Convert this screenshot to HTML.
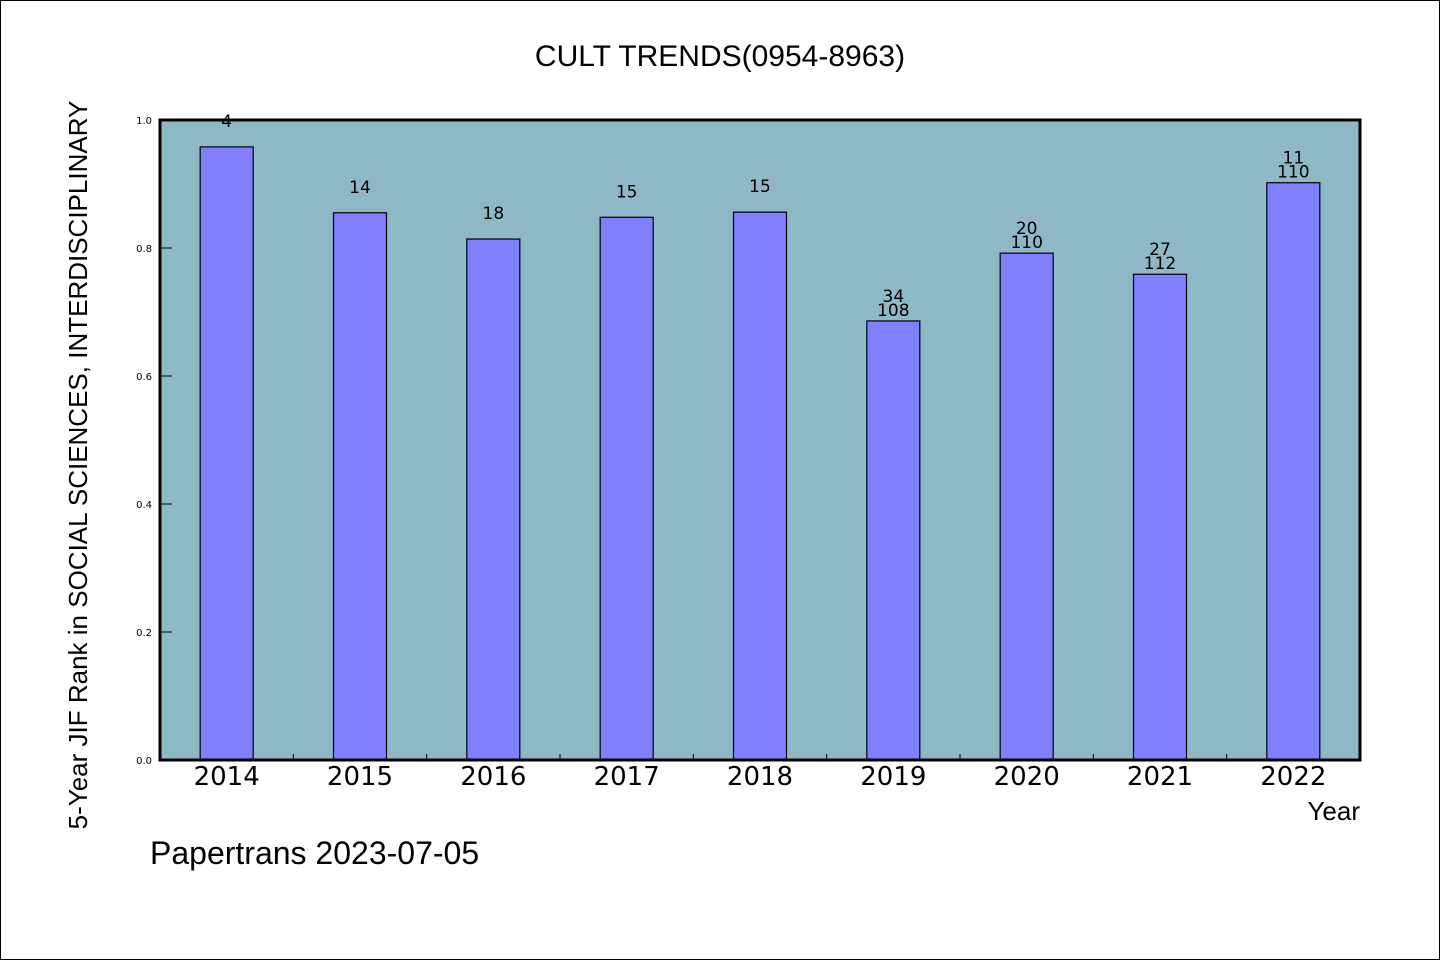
<!DOCTYPE html>
<html><head><meta charset="utf-8"><style>
html,body{margin:0;padding:0;background:#fff}
svg{display:block}
text{font-family:"WenQuanYi Zen Hei","Liberation Sans",sans-serif;fill:#000}
.t{font-family:"DejaVu Sans","Liberation Sans",sans-serif}
</style></head><body>
<svg id="chart" width="1440" height="960" viewBox="0 0 1440 960">
<rect x="0.5" y="0.5" width="1439" height="959" fill="#fff" stroke="#000"/>
<text x="720" y="66" font-size="30" text-anchor="middle">CULT TRENDS(0954-8963)</text>
<rect x="160" y="120" width="1200" height="640" fill="#8fb8c7"/>
<g id="bars"></g>
<g id="axes"></g>
<rect x="160" y="120" width="1200" height="640" fill="none" stroke="#000" stroke-width="3"/>
<text x="1360" y="820" font-size="26" text-anchor="end">Year</text>
<text transform="translate(87,465) rotate(-90)" font-size="26" text-anchor="middle">5-Year JIF Rank in SOCIAL SCIENCES, INTERDISCIPLINARY</text>
<text x="150" y="864" font-size="32">Papertrans 2023-07-05</text>
</svg>
<script>
const categories = ["2014","2015","2016","2017","2018","2019","2020","2021","2022"];
const values = [0.958,0.855,0.814,0.848,0.856,0.686,0.792,0.759,0.902];
const rankLabels = ["4","14","18","15","15","34","20","27","11"];
const totalLabels = ["","","","","","108","110","112","110"];
const yTicks = [0,0.2,0.4,0.6,0.8,1.0];
const yTickLabels = ["0.0","0.2","0.4","0.6","0.8","1.0"];

const X0=160,W=1200,Y0=760,H=640;
const step=W/categories.length;
const xc=i=>X0+step*(i+0.5);
const y=v=>Y0-v*H;
const NS="http://www.w3.org/2000/svg";
const bars=document.getElementById('bars'), axes=document.getElementById('axes');
function mk(tag,attrs,parent){const e=document.createElementNS(NS,tag);for(const k in attrs)e.setAttribute(k,attrs[k]);parent.appendChild(e);return e;}
const bw=53;
categories.forEach((c,i)=>{
  const r=mk('rect',{x:xc(i)-bw/2,y:y(values[i]),width:bw,height:Y0-y(values[i]),fill:'#8080ff',stroke:'#000','stroke-width':1.2},bars);
  
  
  const top=y(values[i]);
  const hasTotal=totalLabels[i]!=="";
  const t1=mk('text',{x:xc(i),y:hasTotal?top-19:top-20,'font-size':17,'text-anchor':'middle',class:'t'},bars);
  t1.textContent=rankLabels[i];
  
  
  if(i===0){t1.setAttribute('y',Math.max(top-20,127));}
  if(hasTotal){
    const t2=mk('text',{x:xc(i),y:top-5,'font-size':17,'text-anchor':'middle',class:'t'},bars);
    t2.textContent=totalLabels[i];
    
    
  }
  const xl=mk('text',{x:xc(i),y:785,'font-size':26,'text-anchor':'middle',class:'t'},axes);
  xl.textContent=c;
  
  
  if(i>0){
    const tk=mk('line',{x1:X0+step*i,x2:X0+step*i,y1:Y0,y2:Y0-6,stroke:'#000','stroke-width':1},axes);
    
    
  }
});
yTicks.forEach((v,i)=>{
  const tk=mk('line',{x1:X0,x2:X0+12,y1:y(v),y2:y(v),stroke:'#000','stroke-width':1},axes);
  
  
  const tl=mk('text',{x:152,y:y(v)+4,'font-size':10,'text-anchor':'end',class:'t'},axes);
  tl.textContent=yTickLabels[i];
  
  
});
</script>
</body></html>
